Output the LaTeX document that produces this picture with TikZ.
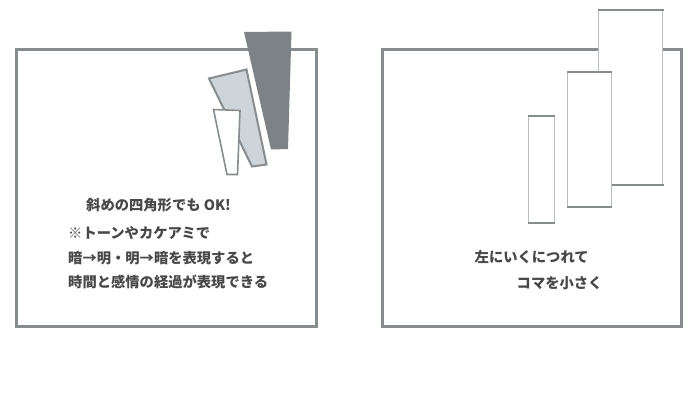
\documentclass[tikz,border=0pt]{standalone}
\usepackage{fontspec}
\newfontfamily\jp{Noto Sans CJK JP}
\definecolor{boxgray}{RGB}{135,140,143}
\definecolor{darkpoly}{RGB}{125,130,134}
\definecolor{lightpoly}{RGB}{205,212,218}
\definecolor{thingray}{RGB}{185,189,191}
\definecolor{txt}{RGB}{72,72,72}
\tikzset{
  frame/.style={draw=boxgray, line width=3pt, fill=white},
  label/.style={anchor=base west, inner sep=0pt, text=txt, font=\jp\bfseries\fontsize{14.3}{17}\selectfont},
  panelside/.style={draw=thingray, line width=1pt},
  paneledge/.style={draw=boxgray, line width=2pt},
}
\begin{document}
\begin{tikzpicture}[x=1pt,y=-1pt]
\useasboundingbox (0,0) rectangle (700,400);
\fill[white] (0,0) rectangle (700,400);
% left frame
\draw[frame] (16.5,49) rectangle (316.5,326);
% polygons
\fill[darkpoly] (244,32) -- (291.5,31.5) -- (288,149) -- (271,149.5) -- cycle;
\draw[draw=boxgray, line width=2pt, fill=lightpoly] (209,78.5) -- (246.5,69.5) -- (266.5,164.5) -- (252,166.5) -- cycle;
\draw[draw=boxgray, line width=1.6pt, fill=white] (213.5,109.5) -- (240,110.5) -- (237.5,174.5) -- (227,174.5) -- cycle;
% left text
\node[label] (t1) at (86,210.5) {斜めの四角形でも OK!};
\node[label] (t2) at (68,238.5) {※トーンやカケアミで};
\node[label] (t3) at (68,263.5) {暗→明・明→暗を表現すると};
\node[label] (t4) at (68,287.5) {時間と感情の経過が表現できる};
% right frame
\draw[frame] (382,49) rectangle (681.5,326);
% big panel
\fill[white] (598.5,10) rectangle (662.5,185);
\draw[panelside] (598.5,10) -- (598.5,185) (662.5,10) -- (662.5,185);
\draw[paneledge] (597.5,10) -- (663.5,10) (597.5,185) -- (663.5,185);
% medium panel
\fill[white] (567.5,71.5) rectangle (611.5,206.5);
\draw[panelside] (567.5,71.5) -- (567.5,206.5) (611.5,71.5) -- (611.5,206.5);
\draw[paneledge] (567,71.5) -- (612,71.5) (567,206.5) -- (612,206.5);
% small panel
\fill[white] (528.5,115.5) rectangle (554.5,222.5);
\draw[panelside] (528.5,115.5) -- (528.5,222.5) (554.5,115.5) -- (554.5,222.5);
\draw[paneledge] (528,115.5) -- (555,115.5) (528,222.5) -- (555,222.5);
% right text
\node[label] (r1) at (474.5,262.5) {左にいくにつれて};
\node[label] (r2) at (516.5,288.5) {コマを小さく};
\end{tikzpicture}
\end{document}
